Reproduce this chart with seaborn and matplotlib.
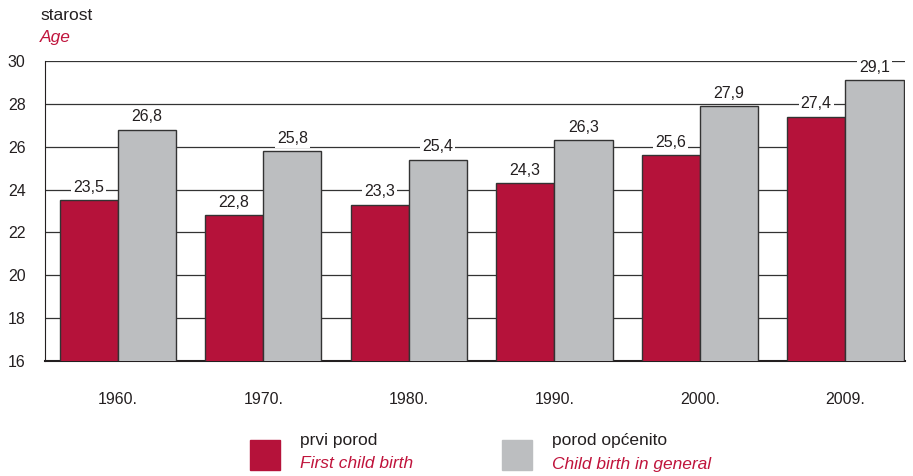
import pandas as pd
import matplotlib.pyplot as plt
import seaborn as sns
from matplotlib.patches import Rectangle

# podaci
years = ['1960.', '1970.', '1980.', '1990.', '2000.', '2009.']
first_birth = [23.5, 22.8, 23.3, 24.3, 25.6, 27.4]
any_birth = [26.8, 25.8, 25.4, 26.3, 27.9, 29.1]
series = ['prvi porod', 'porod općenito']
series_en = ['First child birth', 'Child birth in general']
colors = ['#B5123A', '#BCBEC0']
red_text = '#C0143C'

df = pd.DataFrame({
    'year': years * 2,
    'value': first_birth + any_birth,
    'series': [series[0]] * len(years) + [series[1]] * len(years),
})

sns.set_style('white')
plt.rcParams['font.family'] = ['Liberation Sans', 'DejaVu Sans']

fig = plt.figure(figsize=(9.13, 4.76), dpi=100)
ax = fig.add_axes([45 / 913, 1 - 361 / 476, 860 / 913, 300 / 476])

sns.barplot(data=df, x='year', y='value', hue='series', palette=colors,
            saturation=1, width=0.8, edgecolor='#333333', linewidth=1.0,
            legend=False, ax=ax, zorder=3)

ax.set_ylim(16, 30)
ax.set_xlim(-0.5, 5.41)
ax.set_yticks(range(16, 31, 2))
for y in range(18, 31, 2):
    ax.axhline(y, color='#333333', lw=0.9, zorder=1)

# oznake vrijednosti
for i, (a, b) in enumerate(zip(first_birth, any_birth)):
    for x, v in ((i - 0.2, a), (i + 0.2, b)):
        ax.text(x, v + 0.25, f'{v:.1f}'.replace('.', ','), ha='center', va='bottom',
                fontsize=11.5, color='#231F20', zorder=4,
                bbox=dict(facecolor='white', edgecolor='none', pad=1.5))

for s in ['top', 'right']:
    ax.spines[s].set_visible(False)
ax.spines['left'].set_color('#231F20')
ax.spines['bottom'].set_color('#231F20')
ax.spines['bottom'].set_linewidth(1.5)
ax.tick_params(axis='both', length=0, labelsize=11.5, colors='#231F20')
ax.tick_params(axis='x', pad=22)
ax.tick_params(axis='y', pad=14)
ax.set_xlabel('')
ax.set_ylabel('')

fig.text(40 / 913, 1 - 15 / 476, 'starost', fontsize=12.5, color='#231F20', va='center')
fig.text(40 / 913, 1 - 38 / 476, 'Age', fontsize=12.5, color=red_text, style='italic', va='center')

# legenda
for x0, c, s, e in ((250, colors[0], series[0], series_en[0]), (502, colors[1], series[1], series_en[1])):
    fig.patches.append(Rectangle((x0 / 913, 1 - 470 / 476), 30 / 913, 30 / 476,
                                 transform=fig.transFigure, color=c))
    fig.text((x0 + 50) / 913, 1 - 441 / 476, s, fontsize=12.5, color='#231F20', va='center')
    fig.text((x0 + 50) / 913, 1 - 464 / 476, e, fontsize=12.5, color=red_text,
             style='italic', va='center')

fig.savefig('out.png', dpi=100)
